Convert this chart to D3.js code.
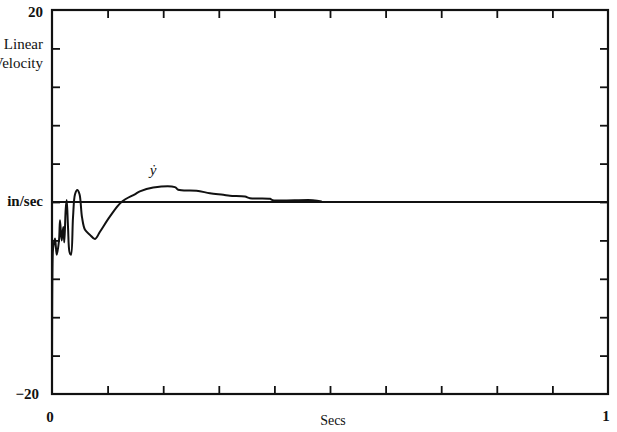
<!DOCTYPE html>
<html>
<head>
<meta charset="utf-8">
<script src="https://cdn.jsdelivr.net/npm/d3@7"></script>
<style>
  html, body { margin: 0; padding: 0; background: #fff; }
  svg { display: block; }
  text { font-family: "Liberation Serif", "DejaVu Serif", serif; fill: #111; }
</style>
</head>
<body>
<div class="canvas"></div>
<script>
// time (s) and linear velocity y-dot (in/sec)
const timeSecs = [0, 0.0015, 0.0023, 0.0054, 0.0085, 0.0126, 0.0144, 0.0174, 0.0203, 0.0221,
  0.0246, 0.0264, 0.0288, 0.0315, 0.0342, 0.0378, 0.0414, 0.0455, 0.0495, 0.054,
  0.0594, 0.068, 0.0773, 0.0863, 0.1043, 0.125, 0.149, 0.158, 0.182, 0.221,
  0.227, 0.26, 0.284, 0.308, 0.32, 0.347, 0.356, 0.392, 0.397, 0.469, 0.485];
const velocity = [-17.9, -5.2, -4.7, -3.8, -5.5, -4.0, -1.9, -4.0, -2.6, -4.2,
  -0.8, 0.2, -2.6, -5.2, -5.5, -1.6, 0.8, 1.25, 0.8, -1.6,
  -2.9, -3.4, -3.85, -3.1, -1.5, 0, 0.8, 1.1, 1.5, 1.55,
  1.27, 1.17, 0.92, 0.75, 0.65, 0.57, 0.4, 0.33, 0.19, 0.19, 0.05];

const xTicks = [0.1, 0.2, 0.3, 0.4, 0.5, 0.6, 0.7, 0.8, 0.9];
const yTicks = [-16, -12, -8, -4, 0, 4, 8, 12, 16];
const xDomain = [0, 1];
const yDomain = [-20, 20];

const W = 617, H = 432;
const margin = { top: 10, right: 9, bottom: 38, left: 52 };
const w = W - margin.left - margin.right;
const h = H - margin.top - margin.bottom;

const svg = d3.select(".canvas").append("svg")
  .attr("width", W).attr("height", H);

const g = svg.append("g")
  .attr("transform", `translate(${margin.left},${margin.top})`);

const x = d3.scaleLinear().domain(xDomain).range([0, w]);
const y = d3.scaleLinear().domain(yDomain).range([h, 0]);

// inward ticks on all four sides
const tick = 8;
function styleAxis(sel) {
  sel.select(".domain").remove();
  sel.selectAll(".tick line").attr("stroke", "#111").attr("stroke-width", 1.8);
  sel.selectAll(".tick text").remove();
}
g.append("g").attr("transform", `translate(0,${h})`)
  .call(d3.axisBottom(x).tickValues(xTicks).tickSize(-tick)).call(styleAxis);
g.append("g")
  .call(d3.axisTop(x).tickValues(xTicks).tickSize(-tick)).call(styleAxis);
g.append("g")
  .call(d3.axisLeft(y).tickValues(yTicks).tickSize(-tick)).call(styleAxis);
g.append("g").attr("transform", `translate(${w},0)`)
  .call(d3.axisRight(y).tickValues(yTicks).tickSize(-tick)).call(styleAxis);

// frame
g.append("rect")
  .attr("x", 0).attr("y", 0).attr("width", w).attr("height", h)
  .attr("fill", "none").attr("stroke", "#111").attr("stroke-width", 2.2);

// zero line
g.append("line")
  .attr("x1", x(0)).attr("x2", x(1))
  .attr("y1", y(0)).attr("y2", y(0))
  .attr("stroke", "#111").attr("stroke-width", 1.8);

// the response curve
const line = d3.line()
  .x((d, i) => x(timeSecs[i]))
  .y(d => y(d))
  .curve(d3.curveCatmullRom.alpha(0.5));

g.append("path")
  .datum(velocity)
  .attr("d", line)
  .attr("fill", "none")
  .attr("stroke", "#111")
  .attr("stroke-width", 2)
  .attr("stroke-linejoin", "round");

// labels
const fs = 15;
svg.append("text").attr("x", 43).attr("y", 17).attr("text-anchor", "end")
  .attr("font-size", fs).attr("font-weight", "bold").text("20");
svg.append("text").attr("x", 39).attr("y", 399).attr("text-anchor", "end")
  .attr("font-size", fs).attr("font-weight", "bold").text("\u221220");
svg.append("text").attr("x", 43).attr("y", 49).attr("text-anchor", "end")
  .attr("font-size", 15).text("Linear");
svg.append("text").attr("x", 43).attr("y", 68).attr("text-anchor", "end")
  .attr("font-size", 15).text("Velocity");
svg.append("text").attr("x", 43).attr("y", 206).attr("text-anchor", "end")
  .attr("font-size", 15).attr("font-weight", "bold").text("in/sec");
svg.append("text").attr("x", margin.left + x(0) - 2).attr("y", 422).attr("text-anchor", "middle")
  .attr("font-size", fs).attr("font-weight", "bold").text("0");
svg.append("text").attr("x", margin.left + x(1) - 2).attr("y", 421).attr("text-anchor", "middle")
  .attr("font-size", fs).attr("font-weight", "bold").text("1");
svg.append("text").attr("x", 333).attr("y", 425).attr("text-anchor", "middle")
  .attr("font-size", 14).text("Secs");
svg.append("text").attr("x", margin.left + x(0.182)).attr("y", 175).attr("text-anchor", "middle")
  .attr("font-size", 15).attr("font-style", "italic").text("\u1E8F");
</script>
</body>
</html>
